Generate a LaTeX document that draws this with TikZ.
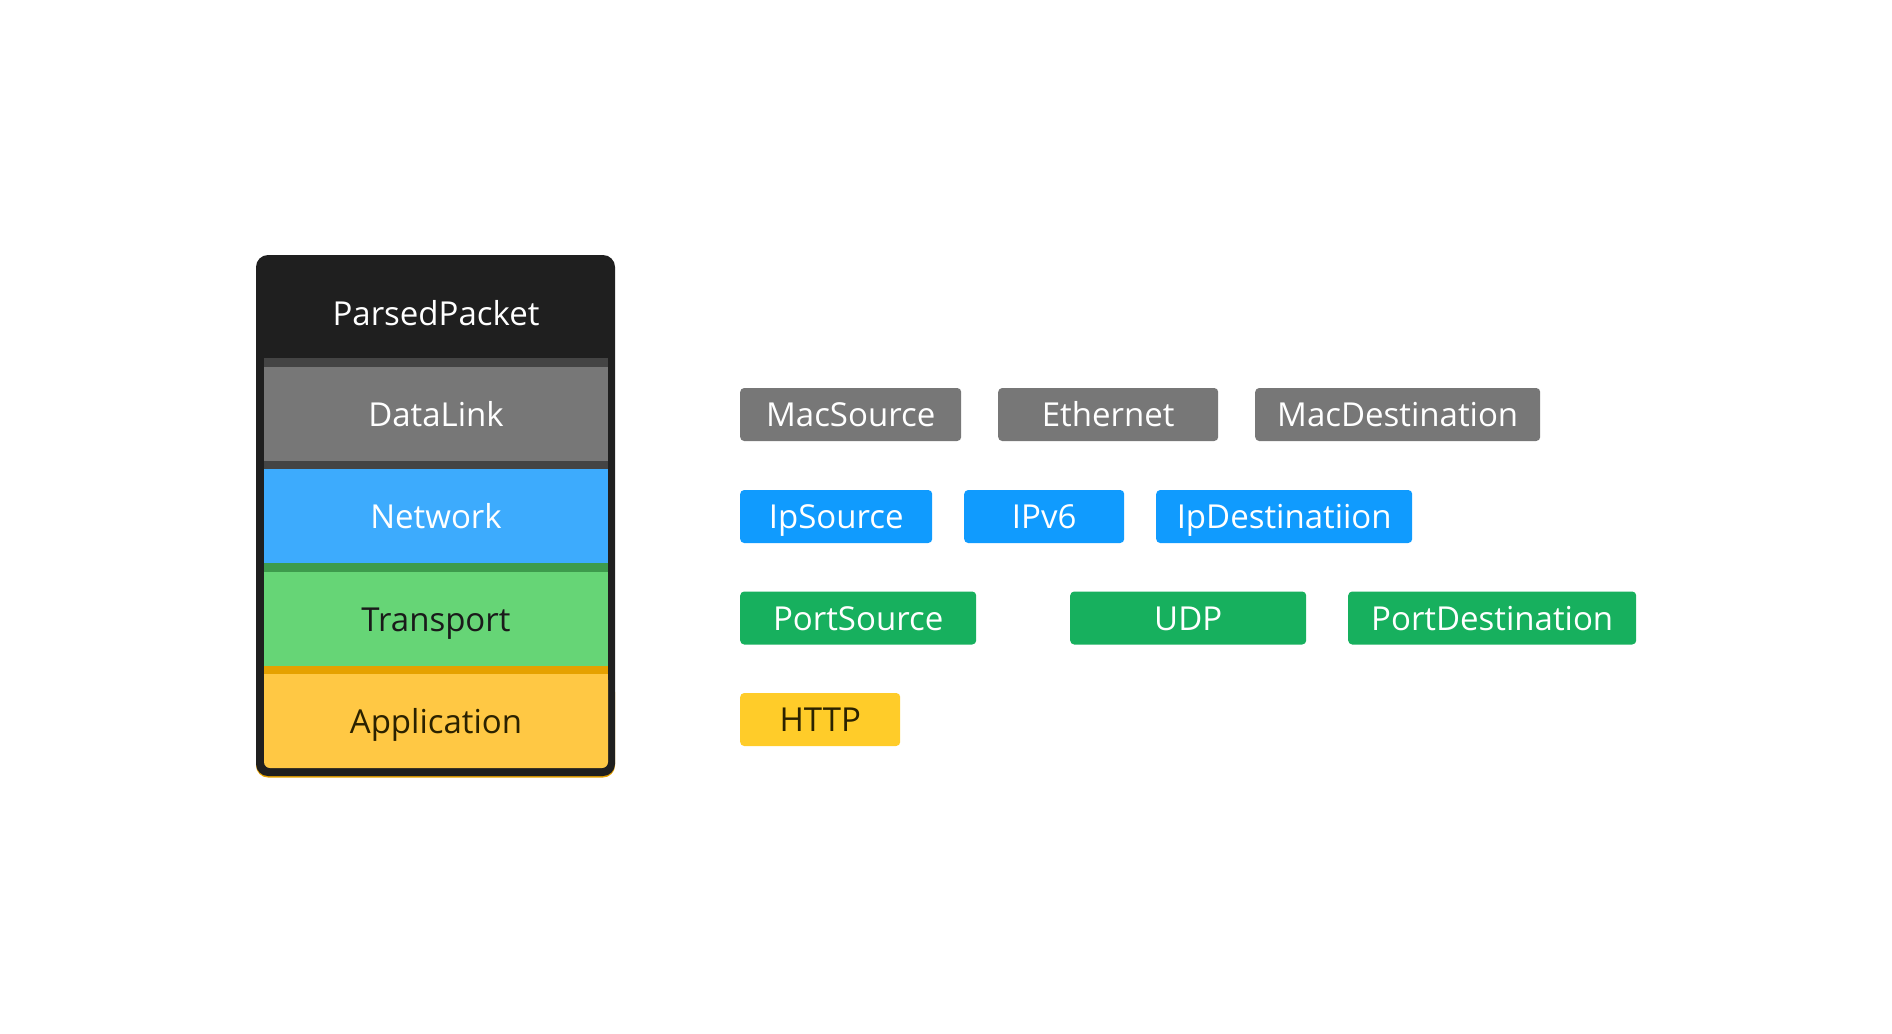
\documentclass[tikz,border=0pt]{standalone}
\usepackage{fontspec}
\setmainfont{Open Sans}
\usetikzlibrary{positioning}
\definecolor{hdrblack}{HTML}{1F1F1F}
\definecolor{stripgray}{HTML}{444444}
\definecolor{linkgray}{HTML}{777777}
\definecolor{netblue}{HTML}{3DABFD}
\definecolor{tpgreen}{HTML}{66D576}
\definecolor{tpgreendk}{HTML}{3D9B4C}
\definecolor{appyellow}{HTML}{FFC844}
\definecolor{appyellowdk}{HTML}{E5A100}
\definecolor{tagblue}{HTML}{109BFE}
\definecolor{taggreen}{HTML}{17B05E}
\definecolor{tagyellow}{HTML}{FFCC29}
\definecolor{darktext}{HTML}{2B2200}
\definecolor{nearblack}{HTML}{1A1A1A}
\tikzset{
  txt/.style={font=\fontsize{33}{39}\selectfont, text height=24pt, text depth=0pt},
  layer/.style={txt, minimum width=344pt, minimum height=94pt, inner sep=0pt},
  tag/.style={txt, rounded corners=4pt, minimum height=53pt, inner sep=0pt, anchor=west},
}

\begin{document}
\begin{tikzpicture}[x=1pt,y=-1pt]
\useasboundingbox (0,0) rectangle (1892,1033);
% frame
\fill[appyellowdk, rounded corners=12pt] (256,680) rectangle (615,777.5);
\fill[hdrblack, rounded corners=12pt] (256,255) rectangle (615,776);
\fill[appyellow, rounded corners=6pt] (264,674) rectangle (608,768);
\fill[appyellow] (264,674) rectangle (608,710);
% layers
\node[layer, text=white] (packet) at (436,313.5) {ParsedPacket};
\node[layer, fill=linkgray, text=white] (datalink) at (436,414) {DataLink};
\node[layer, fill=netblue, text=white] (network) at (436,516) {Network};
\node[layer, fill=tpgreen, text=nearblack] (transport) at (436,619) {Transport};
\node[layer, text=darktext] (application) at (436,721) {Application};
\fill[stripgray] (datalink.north west) rectangle ([yshift=9pt]datalink.north east);
\fill[stripgray] (datalink.south west) rectangle (network.north east);
\fill[tpgreendk] (network.south west) rectangle (transport.north east);
\fill[appyellowdk] (transport.south west) rectangle (application.north east);
% fields
\foreach \nm/\lbl/\x/\y/\w/\col/\tc in {
  macsrc/MacSource/740/414.5/221/linkgray/white,
  ether/Ethernet/998/414.5/220/linkgray/white,
  macdst/MacDestination/1255/414.5/285/linkgray/white,
  ipsrc/IpSource/740/516.5/192/tagblue/white,
  ipv6/IPv6/964/516.5/160/tagblue/white,
  ipdst/IpDestinatiion/1156/516.5/256/tagblue/white,
  portsrc/PortSource/740/618/236/taggreen/white,
  udp/UDP/1070/618/236/taggreen/white,
  portdst/PortDestination/1348/618/288/taggreen/white,
  http/HTTP/740/719.5/160/tagyellow/darktext}
  \node[tag, fill=\col, text=\tc, minimum width=\w pt] (\nm) at (\x,\y) {\lbl};
\end{tikzpicture}
\end{document}
